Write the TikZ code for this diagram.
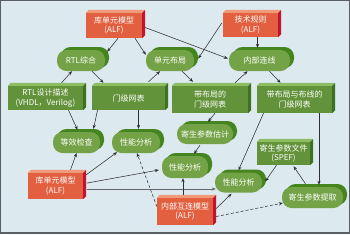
\documentclass[tikz,border=0pt]{standalone}
\usepackage{fontspec}
\newfontfamily\cjk{Noto Sans CJK SC}
\usetikzlibrary{arrows.meta,shadows}
\definecolor{bg}{HTML}{DCE9EF}
\definecolor{framec}{HTML}{5A5F63}
\definecolor{redfront}{HTML}{E2603F}
\definecolor{redtop}{HTML}{F19A7A}
\definecolor{redside}{HTML}{C4122F}
\definecolor{grnfront}{HTML}{62923A}
\definecolor{grntop}{HTML}{8FBD63}
\definecolor{grnside}{HTML}{3E7222}
\definecolor{pillfront}{HTML}{74A347}
\definecolor{pilldark}{HTML}{45851F}
\definecolor{linec}{HTML}{303030}
\newcommand\mkcube[3]{%
  \fill[#2] (#1.north west) -- ++(3,-3) -- ([shift={(3,-3)}]#1.north east) -- (#1.north east) -- cycle;
  \fill[#3] (#1.north east) -- ++(3,-3) -- ([shift={(3,-3)}]#1.south east) -- (#1.south east) -- cycle;}
\tikzset{
  txt/.style={text=white,font=\cjk\fontsize{8pt}{9.5pt}\selectfont,align=center,inner sep=0pt},
  redbox/.style={txt,fill=redfront},
  grnbox/.style={txt,fill=grnfront},
  pill/.style={txt,fill=pillfront,rounded corners=9.5pt,
    general shadow={fill=pilldark,shadow xshift=4pt,shadow yshift=3pt}},
  conn/.style={linec,line width=0.55pt,-{Stealth[length=4pt,width=3.2pt]}},
  dconn/.style={conn,dash pattern=on 3pt off 2pt}
}
\begin{document}
\begin{tikzpicture}[x=1pt,y=-1pt]
\fill[bg] (0,0) rectangle (350,234);
\useasboundingbox (0,0) rectangle (350,234);
\draw[framec,line width=1pt] (0.5,234) -- (0.5,0.5) -- (349.5,0.5) -- (349.5,234);
\fill[framec] (0,231.5) rectangle (350,234);

% boxes
\node[redbox,minimum width=56pt,minimum height=25pt] (libtop) at (114,25.5) {库单元模型\\(ALF)};
\mkcube{libtop}{redtop}{redside}
\node[redbox,minimum width=55pt,minimum height=24pt] (tech) at (250.5,25) {技术规则\\(ALF)};
\mkcube{tech}{redtop}{redside}
\node[grnbox,minimum width=75pt,minimum height=24pt] (rtldesc) at (45.5,98) {RTL设计描述\\(VHDL，Verilog)};
\mkcube{rtldesc}{grntop}{grnside}
\node[grnbox,minimum width=73pt,minimum height=24pt] (gatenet) at (128.5,98) {门级网表};
\mkcube{gatenet}{grntop}{grnside}
\node[grnbox,minimum width=76pt,minimum height=27pt] (placednet) at (210,99.5) {带布局的\\门级网表};
\mkcube{placednet}{grntop}{grnside}
\node[grnbox,minimum width=75pt,minimum height=27pt] (routednet) at (294.5,99.5) {带布局与布线的\\门级网表};
\mkcube{routednet}{grntop}{grnside}
\node[grnbox,minimum width=53pt,minimum height=23pt] (spef) at (283.5,153.5) {寄生参数文件\\(SPEF)};
\mkcube{spef}{grntop}{grnside}
\node[redbox,minimum width=55pt,minimum height=26pt] (libbot) at (55.5,186) {库单元模型\\(ALF)};
\mkcube{libbot}{redtop}{redside}
\node[redbox,minimum width=56pt,minimum height=27pt] (intmodel) at (185,211.5) {内部互连模型\\(ALF)};
\mkcube{intmodel}{redtop}{redside}

% pills
\node[pill,minimum width=48pt,minimum height=21pt] (rtlsyn) at (81,60.5) {RTL综合};
\node[pill,minimum width=48pt,minimum height=21pt] (celllayout) at (170,60.5) {单元布局};
\node[pill,minimum width=61pt,minimum height=21pt] (interconnect) at (259.5,60.5) {内部连线};
\node[pill,minimum width=47pt,minimum height=21pt] (eqcheck) at (76.5,142.5) {等效检查};
\node[pill,minimum width=48pt,minimum height=21pt] (perf1) at (136,142.5) {性能分析};
\node[pill,minimum width=56pt,minimum height=20pt] (paraest) at (205,134) {寄生参数估计};
\node[pill,minimum width=46pt,minimum height=22pt] (perf2) at (185,167) {性能分析};
\node[pill,minimum width=47pt,minimum height=20pt] (perf3) at (238.5,182.5) {性能分析};
\node[pill,minimum width=61pt,minimum height=21pt] (paraext) at (312.5,197.5) {寄生参数提取};

% connectors
\draw[conn] ([shift={(4,0)}]libtop.south) -- ([shift={(2,2)}]rtlsyn.north east);
\draw[conn] ([shift={(21,0)}]libtop.south) -- ([shift={(0,5)}]celllayout.north west);
\draw[conn] ([shift={(3,2)}]libtop.east) -- ([shift={(-1,-2)}]interconnect.west);
\draw[conn] ([shift={(-1,-2)}]tech.west) -- ([shift={(4,-2)}]celllayout.east);
\draw[conn] ([shift={(7,0)}]tech.south) -- ([shift={(-2,-2)}]interconnect.north);
\draw[conn] ([shift={(16,-3)}]rtldesc.north) -- ([shift={(-9,0)}]rtlsyn.south);
\draw[conn] ([shift={(11,0)}]rtlsyn.south) -- ([shift={(-25,-3)}]gatenet.north);
\draw[conn] ([shift={(20,-4)}]gatenet.north) -- ([shift={(-10,0)}]celllayout.south);
\draw[conn] ([shift={(12,0)}]celllayout.south) -- ([shift={(-17,-4)}]placednet.north);
\draw[conn] ([shift={(25,-3)}]placednet.north) -- ([shift={(-12,0)}]interconnect.south);
\draw[conn] ([shift={(10,0)}]interconnect.south) -- ([shift={(-14,-3)}]routednet.north);
\draw[conn] ([shift={(23,0)}]rtldesc.south) -- ([shift={(1,-2)}]eqcheck.north);
\draw[conn] ([shift={(-31,0)}]gatenet.south) -- ([shift={(17,-3)}]eqcheck.north);
\draw[conn] ([shift={(10,0)}]gatenet.south) -- ([shift={(2.5,-3)}]perf1.north);
\draw[conn] ([shift={(5,0)}]placednet.south) -- ([shift={(3,-2)}]paraest.north);
\draw[conn] ([shift={(-5,1)}]paraest.south) -- ([shift={(9,-2)}]perf2.north);
\draw[conn] ([shift={(-31,0)}]routednet.south) -- ([shift={(0,-2)}]perf3.north);
\draw[conn] ([shift={(24.5,0)}]routednet.south) -- ([shift={(6.5,-2)}]paraext.north);
\draw[conn] ([shift={(-7,0)}]spef.south) -- ([shift={(3,-1)}]perf3.east);
\draw[conn] ([shift={(-7,-3)}]paraext.north) -- ([shift={(10,1)}]spef.south);
\draw[conn] ([shift={(15,-3)}]libbot.north) -- (eqcheck.south);
\draw[conn] ([shift={(3,2)}]libbot.north east) -- ([shift={(-19,-1)}]perf1.south);
\draw[conn] ([shift={(4,-3)}]libbot.east) -- ([shift={(-3,3)}]perf2.west);
\draw[conn,draw=gray!80!black,line width=0.9pt] ([shift={(4,3)}]libbot.east) -- ([shift={(1,6.5)}]perf3.west);
\draw[dconn] ([shift={(0,-5)}]intmodel.west) -- ([shift={(1,0)}]perf1.south);
\draw[conn] ([shift={(-2,-3)}]intmodel.north) -- ([shift={(-2,0)}]perf2.south);
\draw[conn] ([shift={(3,-3)}]intmodel.east) -- ([shift={(-7,1)}]perf3.south);
\draw[dconn] ([shift={(3,5)}]intmodel.east) -- ([shift={(1,5.5)}]paraext.west);
\end{tikzpicture}
\end{document}
